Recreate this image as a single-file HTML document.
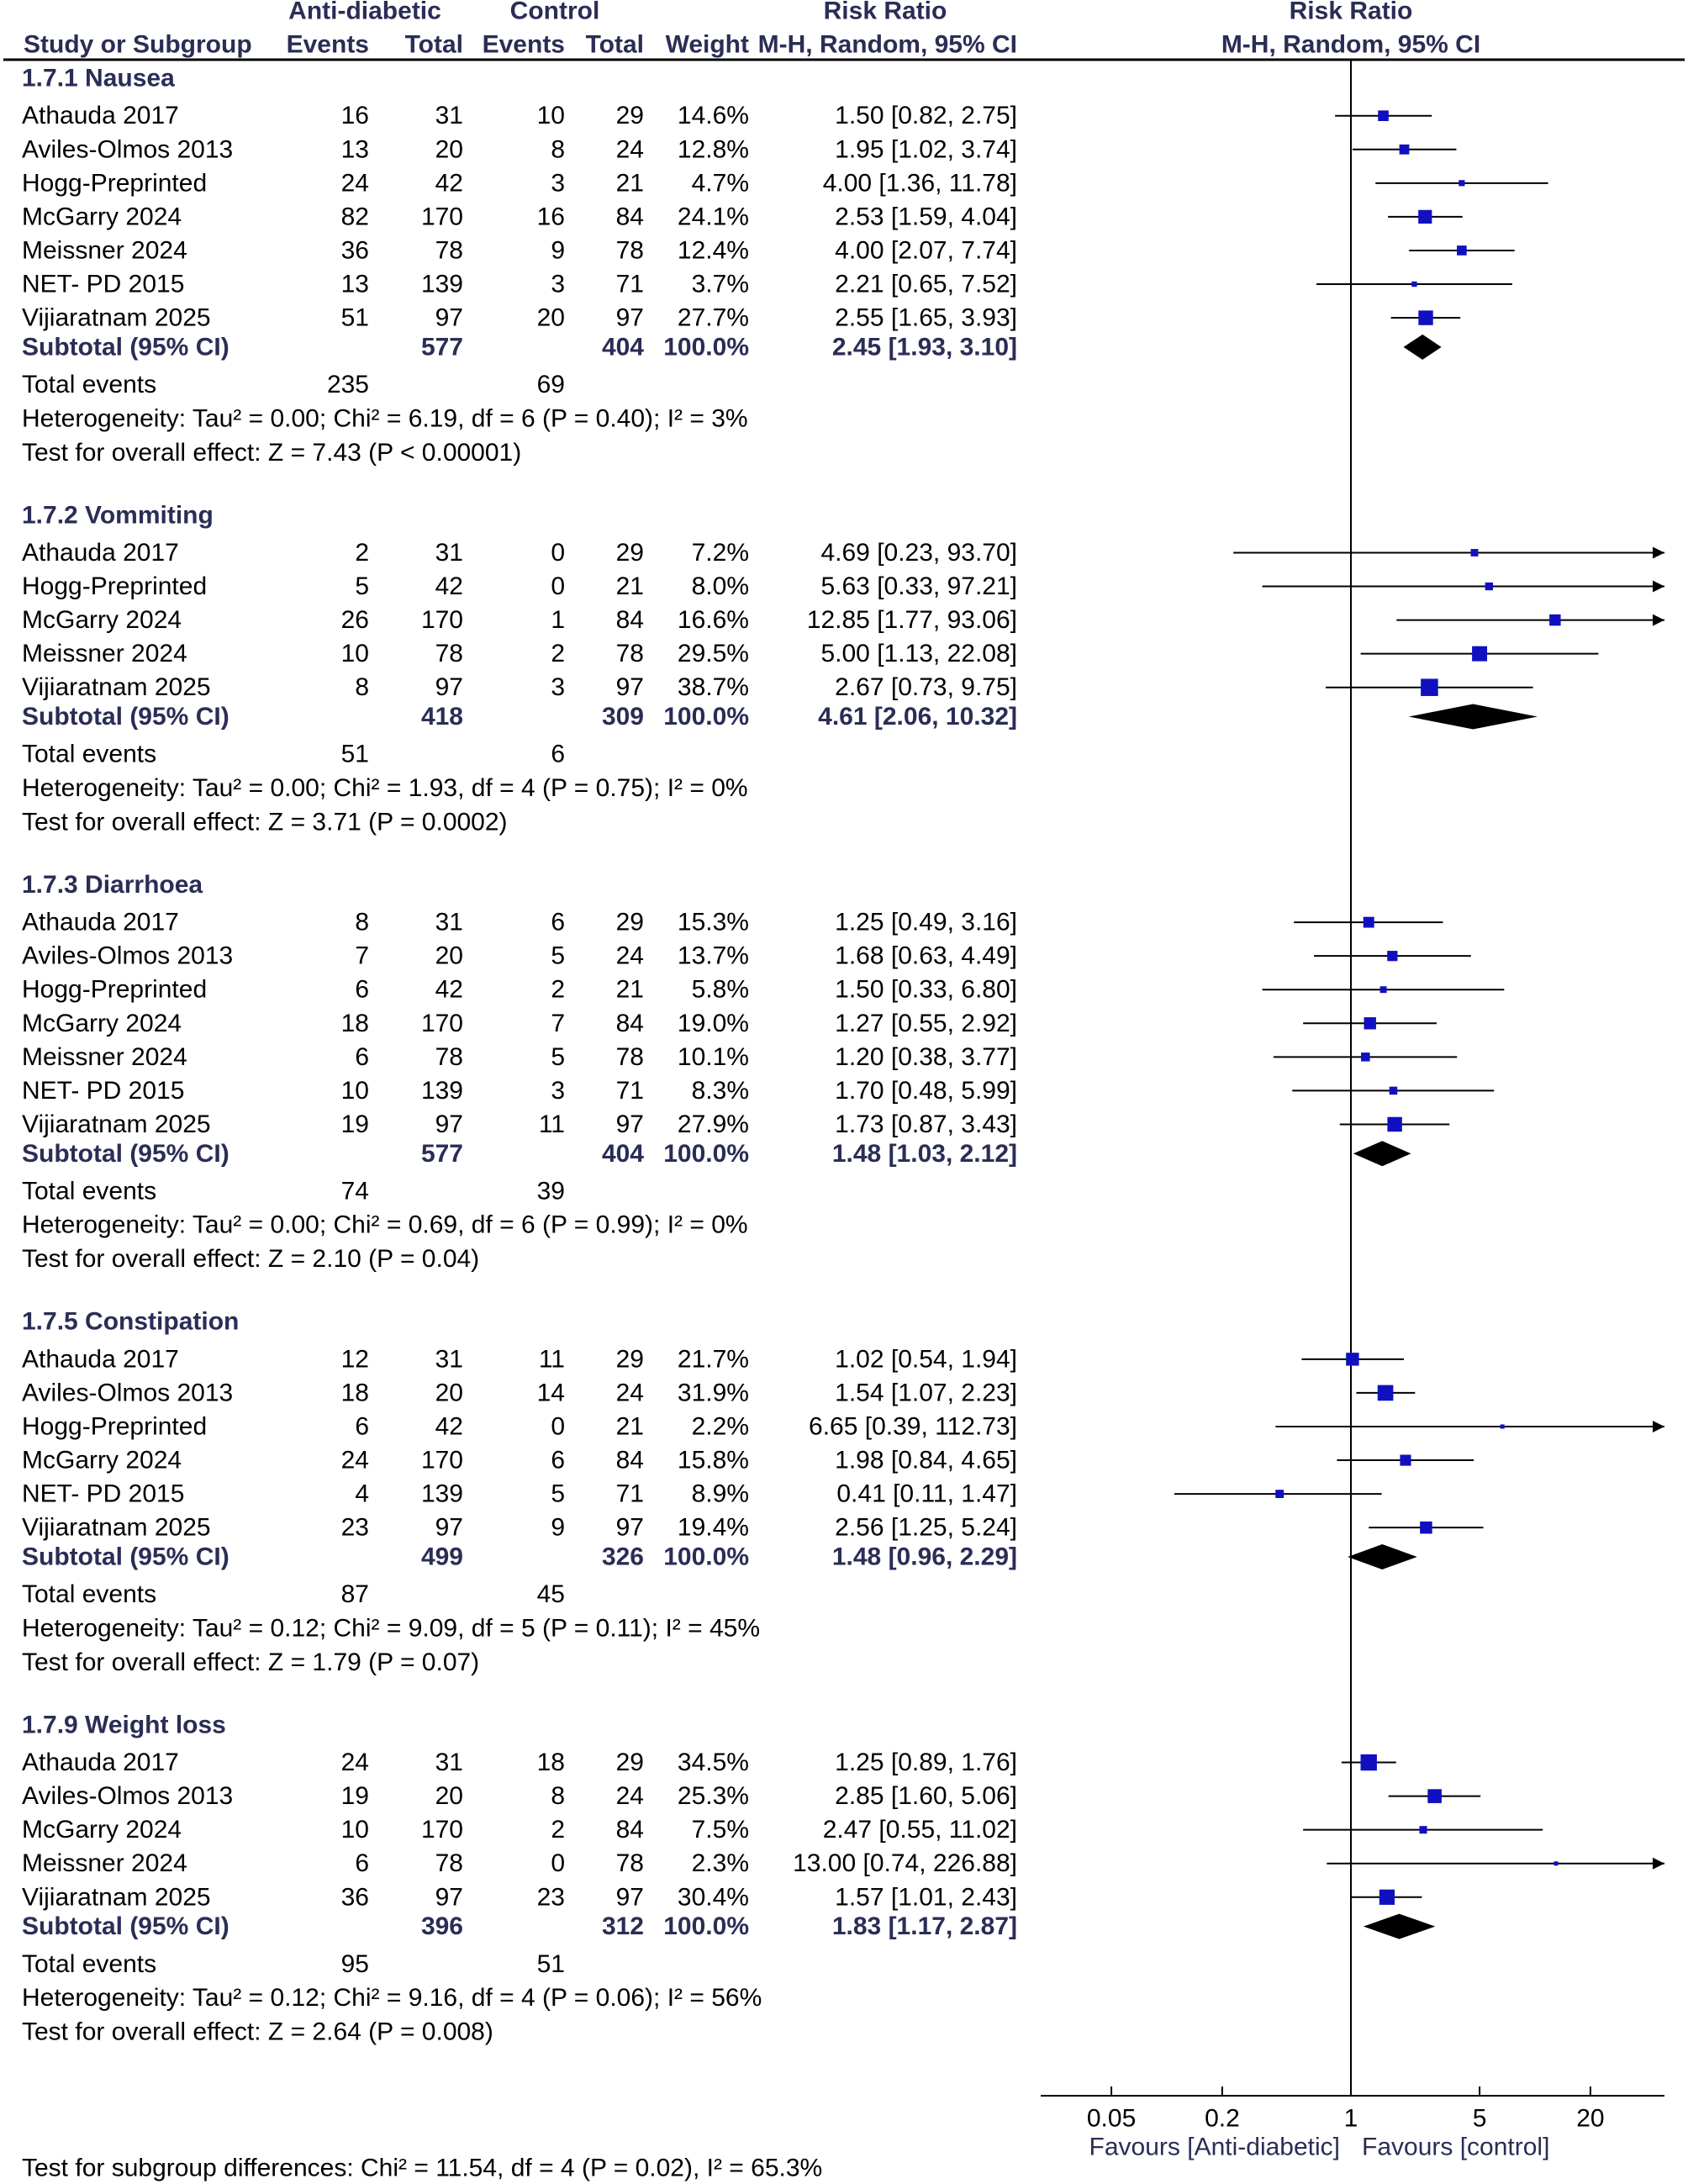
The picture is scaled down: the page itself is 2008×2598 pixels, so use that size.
<!DOCTYPE html>
<html><head><meta charset="utf-8"><style>
html,body{margin:0;padding:0;background:#fff}
svg{display:block}
text{font-family:"Liberation Sans",sans-serif;font-size:30px;fill:#000}
.h{font-weight:bold;fill:#2a2d55}
.b{font-weight:bold;fill:#2a2d55}
</style></head><body>
<svg id="plot" width="2008" height="2598" viewBox="0 0 2008 2598" xmlns="http://www.w3.org/2000/svg"></svg>
<script>
// ---- data ----
const sectionTitles = ["1.7.1 Nausea","1.7.2 Vommiting","1.7.3 Diarrhoea","1.7.5 Constipation","1.7.9 Weight loss"];
const nauseaStudies = [
 ["Athauda 2017",16,31,10,29,"14.6%",1.50,0.82,2.75],
 ["Aviles-Olmos  2013",13,20,8,24,"12.8%",1.95,1.02,3.74],
 ["Hogg-Preprinted",24,42,3,21,"4.7%",4.00,1.36,11.78],
 ["McGarry  2024",82,170,16,84,"24.1%",2.53,1.59,4.04],
 ["Meissner  2024",36,78,9,78,"12.4%",4.00,2.07,7.74],
 ["NET- PD  2015",13,139,3,71,"3.7%",2.21,0.65,7.52],
 ["Vijiaratnam  2025",51,97,20,97,"27.7%",2.55,1.65,3.93]];
const vomitStudies = [
 ["Athauda 2017",2,31,0,29,"7.2%",4.69,0.23,93.70],
 ["Hogg-Preprinted",5,42,0,21,"8.0%",5.63,0.33,97.21],
 ["McGarry  2024",26,170,1,84,"16.6%",12.85,1.77,93.06],
 ["Meissner  2024",10,78,2,78,"29.5%",5.00,1.13,22.08],
 ["Vijiaratnam  2025",8,97,3,97,"38.7%",2.67,0.73,9.75]];
const diarrStudies = [
 ["Athauda 2017",8,31,6,29,"15.3%",1.25,0.49,3.16],
 ["Aviles-Olmos  2013",7,20,5,24,"13.7%",1.68,0.63,4.49],
 ["Hogg-Preprinted",6,42,2,21,"5.8%",1.50,0.33,6.80],
 ["McGarry  2024",18,170,7,84,"19.0%",1.27,0.55,2.92],
 ["Meissner  2024",6,78,5,78,"10.1%",1.20,0.38,3.77],
 ["NET- PD  2015",10,139,3,71,"8.3%",1.70,0.48,5.99],
 ["Vijiaratnam  2025",19,97,11,97,"27.9%",1.73,0.87,3.43]];
const constStudies = [
 ["Athauda 2017",12,31,11,29,"21.7%",1.02,0.54,1.94],
 ["Aviles-Olmos  2013",18,20,14,24,"31.9%",1.54,1.07,2.23],
 ["Hogg-Preprinted",6,42,0,21,"2.2%",6.65,0.39,112.73],
 ["McGarry  2024",24,170,6,84,"15.8%",1.98,0.84,4.65],
 ["NET- PD  2015",4,139,5,71,"8.9%",0.41,0.11,1.47],
 ["Vijiaratnam  2025",23,97,9,97,"19.4%",2.56,1.25,5.24]];
const weightStudies = [
 ["Athauda 2017",24,31,18,29,"34.5%",1.25,0.89,1.76],
 ["Aviles-Olmos  2013",19,20,8,24,"25.3%",2.85,1.60,5.06],
 ["McGarry  2024",10,170,2,84,"7.5%",2.47,0.55,11.02],
 ["Meissner  2024",6,78,0,78,"2.3%",13.00,0.74,226.88],
 ["Vijiaratnam  2025",36,97,23,97,"30.4%",1.57,1.01,2.43]];
const subtotals = [
 [577,404,2.45,1.93,3.10,235,69],
 [418,309,4.61,2.06,10.32,51,6],
 [577,404,1.48,1.03,2.12,74,39],
 [499,326,1.48,0.96,2.29,87,45],
 [396,312,1.83,1.17,2.87,95,51]];
const hetTexts = [
 "Heterogeneity: Tau² = 0.00; Chi² = 6.19, df = 6 (P = 0.40); I² = 3%",
 "Heterogeneity: Tau² = 0.00; Chi² = 1.93, df = 4 (P = 0.75); I² = 0%",
 "Heterogeneity: Tau² = 0.00; Chi² = 0.69, df = 6 (P = 0.99); I² = 0%",
 "Heterogeneity: Tau² = 0.12; Chi² = 9.09, df = 5 (P = 0.11); I² = 45%",
 "Heterogeneity: Tau² = 0.12; Chi² = 9.16, df = 4 (P = 0.06); I² = 56%"];
const effectTexts = [
 "Test for overall effect: Z = 7.43 (P < 0.00001)",
 "Test for overall effect: Z = 3.71 (P = 0.0002)",
 "Test for overall effect: Z = 2.10 (P = 0.04)",
 "Test for overall effect: Z = 1.79 (P = 0.07)",
 "Test for overall effect: Z = 2.64 (P = 0.008)"];
const tickValues = [0.05,0.2,1,5,20];
const tickLabels = ["0.05","0.2","1","5","20"];

// ---- drawing ----
const svg = document.getElementById('plot');
const NS = "http://www.w3.org/2000/svg";
const X1 = 1607, DEC = 219, AXL = 1238, AXR = 1980, AXY = 2493;
function xs(v){ return X1 + Math.log10(v)*DEC; }
function el(tag, attrs, txt){
  const e = document.createElementNS(NS, tag);
  for (const k in attrs) e.setAttribute(k, attrs[k]);
  if (txt !== undefined) e.textContent = txt;
  svg.appendChild(e); return e;
}
function txt(x,y,s,anchor,cls,name){
  const e = el('text',{x:x,y:y,'text-anchor':anchor||'start','dominant-baseline':'central'},s);
  if (cls) e.setAttribute('class',cls);
  
  
  return e;
}
const fmt = v => v.toFixed(2);
// headers
txt(434,13,"Anti-diabetic","middle","h","header-anti-diabetic");
txt(660,13,"Control","middle","h","header-control");
txt(1053,13,"Risk Ratio","middle","h","header-risk-ratio");
txt(1607,13,"Risk Ratio","middle","h","header-risk-ratio-plot");
txt(28,53,"Study or Subgroup","start","h","header-study");
txt(439,53,"Events","end","h","header-events-1");
txt(551,53,"Total","end","h","header-total-1");
txt(672,53,"Events","end","h","header-events-2");
txt(766,53,"Total","end","h","header-total-2");
txt(891,53,"Weight","end","h","header-weight");
txt(1210,53,"M-H, Random, 95% CI","end","h","header-ci");
txt(1607,53,"M-H, Random, 95% CI","middle","h","header-ci-plot");
let r = el('line',{x1:4,y1:71,x2:2004,y2:71,stroke:'#000','stroke-width':3});
 
let nl = el('line',{x1:X1,y1:71,x2:X1,y2:AXY,stroke:'#000','stroke-width':2});
 

const allStudies = [nauseaStudies, vomitStudies, diarrStudies, constStudies, weightStudies];
let y = 93;
allStudies.forEach((studies, si) => {
  txt(26,y,sectionTitles[si],"start","b","section-title");
  y += 44.7;
  studies.forEach((s, i) => {
    if (i>0) y += 40.06;
    txt(26,y,s[0],"start",null,"study-name");
    txt(439,y,String(s[1]),"end",null,"events-exp");
    txt(551,y,String(s[2]),"end",null,"total-exp");
    txt(672,y,String(s[3]),"end",null,"events-ctrl");
    txt(766,y,String(s[4]),"end",null,"total-ctrl");
    txt(891,y,s[5],"end",null,"weight");
    txt(1210,y,fmt(s[6])+" ["+fmt(s[7])+", "+fmt(s[8])+"]","end",null,"ci-text");
    const lo = Math.max(xs(s[7]),AXL), hi = Math.min(xs(s[8]),AXR);
    const ln = el('line',{x1:lo,y1:y,x2:hi,y2:y,stroke:'#000','stroke-width':2});
     
    if (xs(s[8])>AXR){
      const a = el('polygon',{points:`${AXR},${y} ${AXR-14},${y-7} ${AXR-14},${y+7}`,fill:'#000'});
       
    }
    const w = parseFloat(s[5]); const sz = Math.max(5, Math.sqrt(w)*3.3);
    const sq = el('rect',{x:xs(s[6])-sz/2,y:y-sz/2,width:sz,height:sz,fill:'#1010c0'});
     
  });
  y += 34.8;
  const st = subtotals[si];
  txt(26,y,"Subtotal (95% CI)","start","b","subtotal-label");
  txt(551,y,String(st[0]),"end","b","subtotal-total-exp");
  txt(766,y,String(st[1]),"end","b","subtotal-total-ctrl");
  txt(891,y,"100.0%","end","b","subtotal-weight");
  txt(1210,y,fmt(st[2])+" ["+fmt(st[3])+", "+fmt(st[4])+"]","end","b","subtotal-ci");
  const d = el('polygon',{points:`${xs(st[3])},${y} ${xs(st[2])},${y-15} ${xs(st[4])},${y} ${xs(st[2])},${y+15}`,fill:'#000'});
   
  y += 44.7;
  txt(26,y,"Total events","start",null,"total-events-label");
  txt(439,y,String(st[5]),"end",null,"total-events-exp");
  txt(672,y,String(st[6]),"end",null,"total-events-ctrl");
  y += 40.2;
  txt(26,y,hetTexts[si],"start",null,"heterogeneity");
  y += 40.5;
  txt(26,y,effectTexts[si],"start",null,"overall-effect");
  y += 74.5;
});
// axis
let ax = el('line',{x1:AXL,y1:AXY,x2:AXR,y2:AXY,stroke:'#000','stroke-width':2});
 
tickValues.forEach((v,i) => {
  const t = el('line',{x1:xs(v),y1:AXY-11,x2:xs(v),y2:AXY,stroke:'#000','stroke-width':2});
   
  txt(xs(v),2520,tickLabels[i],"middle",null,"x-tick-label");
});
txt(1594,2554,"Favours [Anti-diabetic]","end","b","favours-left").setAttribute('style','font-weight:normal');
txt(1620,2554,"Favours [control]","start","b","favours-right").setAttribute('style','font-weight:normal');
txt(26,2579,"Test for subgroup differences: Chi² = 11.54, df = 4 (P = 0.02), I² = 65.3%","start",null,"subgroup-differences");
</script>
</body></html>
